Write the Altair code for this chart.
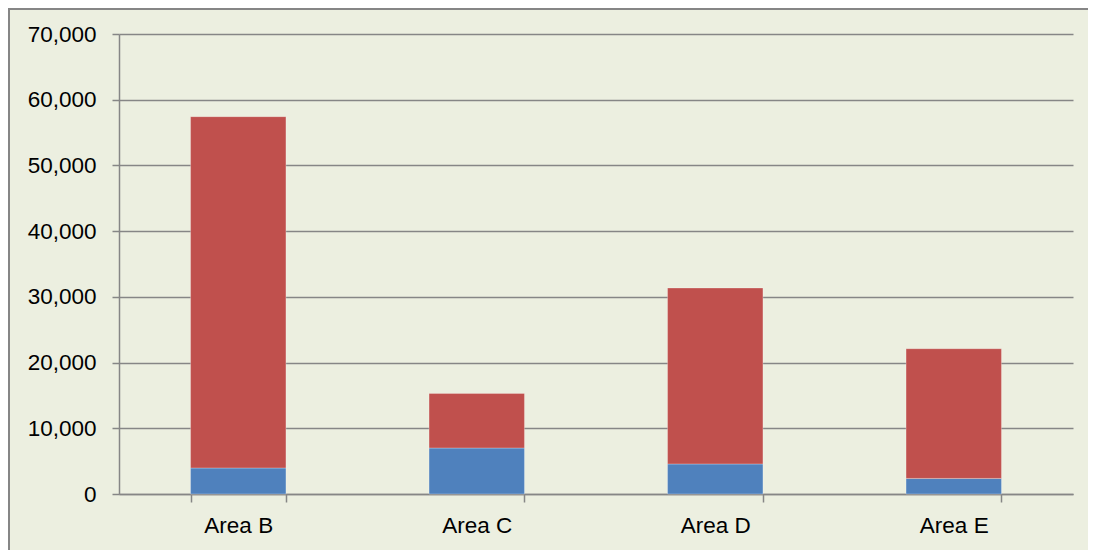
import altair as alt
import pandas as pd

areas = ["Area B", "Area C", "Area D", "Area E"]
series1 = [3960, 7000, 4570, 2370]      # blue (bottom)
series2 = [53460, 8310, 26780, 19740]   # red (top)
y_ticks = [0, 10000, 20000, 30000, 40000, 50000, 60000, 70000]

rows = []
for a, v1, v2 in zip(areas, series1, series2):
    rows.append({"area": a, "series": "Series1", "ord": 0, "value": v1})
    rows.append({"area": a, "series": "Series2", "ord": 1, "value": v2})
df = pd.DataFrame(rows)

W, H = 954, 460
GRAY = "#868686"
FONT = "Liberation Sans"

bars = alt.Chart(df).mark_bar(stroke="#ffffff", strokeOpacity=0.35, strokeWidth=0.8).encode(
    x=alt.X("area:N", sort=areas, title=None,
            scale=alt.Scale(paddingInner=0.6, paddingOuter=0.3),
            axis=alt.Axis(labelAngle=0, labelFontSize=22.5, labelColor="#000000",
                          labelFont=FONT, labelPadding=12,
                          tickBand="extent", tickSize=8, tickColor=GRAY, tickWidth=1.5,
                          domainColor=GRAY, domainWidth=1.5, grid=False)),
    y=alt.Y("value:Q", stack="zero", title=None,
            scale=alt.Scale(domain=[0, 70000], nice=False),
            axis=alt.Axis(values=y_ticks, format=",d", labelFontSize=22.5,
                          labelColor="#000000", labelFont=FONT,
                          labelPadding=16, tickSize=7, tickColor=GRAY, tickWidth=1.5,
                          domainColor=GRAY, domainWidth=1.5,
                          grid=True, gridColor=GRAY, gridWidth=1.5)),
    color=alt.Color("series:N",
                    scale=alt.Scale(domain=["Series1", "Series2"], range=["#4F81BD", "#C0504D"]),
                    legend=None),
    order=alt.Order("ord:Q"),
)

left_border = alt.Chart(df).mark_rule(color=GRAY, strokeWidth=1.5).encode(
    x=alt.value(-110.25), y=alt.value(-26), y2=alt.value(H + 60)
)
top_border = alt.Chart(df).mark_rule(color=GRAY, strokeWidth=1.5).encode(
    x=alt.value(-111), x2=alt.value(W + 40), y=alt.value(-25.25)
)

chart = alt.layer(bars, left_border, top_border).properties(
    width=W, height=H,
    autosize=alt.AutoSizeParams(type="none"),
    padding={"left": 111, "top": 26, "right": 15, "bottom": 56},
    background="#ECEFE0",
).configure_view(stroke=None)

chart.save("out.html", embed_options={"renderer": "svg", "actions": False})
